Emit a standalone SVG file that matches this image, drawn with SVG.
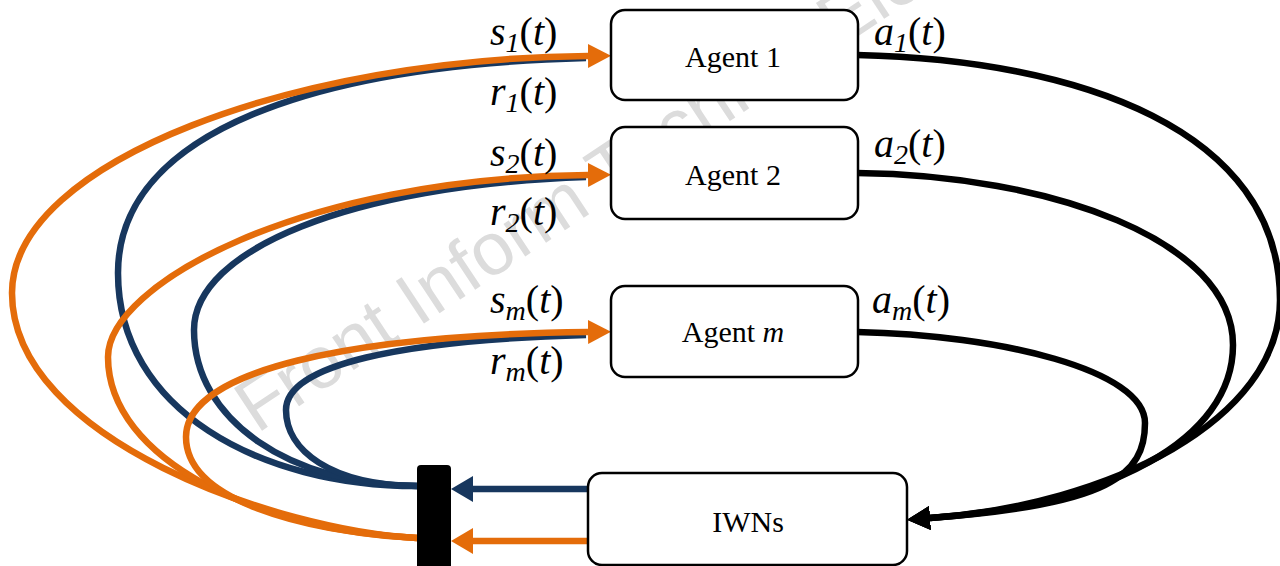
<svg xmlns="http://www.w3.org/2000/svg" width="1280" height="566" viewBox="0 0 1280 566">
<style>
.box{fill:#fff;stroke:#000;stroke-width:2.5}
.lbl{font-family:"Liberation Serif","Times New Roman",serif;font-size:30px;fill:#000}
.math{font-family:"Liberation Serif","Times New Roman",serif;font-size:40px;font-style:italic;fill:#000}
.sub{font-size:28px}
.up{font-style:normal}
.or{fill:none;stroke:#E46C0A;stroke-width:6.5}
.bl{fill:none;stroke:#17375E;stroke-width:6.5}
.bk{fill:none;stroke:#000;stroke-width:6.5}
.wm{font-family:"Liberation Sans",Arial,sans-serif;font-size:74px;fill:#dcdcdc}
</style>
<defs>
<marker id="ao" markerUnits="userSpaceOnUse" viewBox="0 0 23 24" refX="0" refY="12" markerWidth="23" markerHeight="24" orient="auto"><path d="M0,0 L23,12 L0,24 z" fill="#E46C0A"/></marker>
<marker id="ab" markerUnits="userSpaceOnUse" viewBox="0 0 22 26" refX="0" refY="13" markerWidth="22" markerHeight="26" orient="auto"><path d="M0,0 L22,13 L0,26 z" fill="#17375E"/></marker>
<marker id="abo" markerUnits="userSpaceOnUse" viewBox="0 0 22 26" refX="0" refY="13" markerWidth="22" markerHeight="26" orient="auto"><path d="M0,0 L22,13 L0,26 z" fill="#E46C0A"/></marker>
<marker id="ak" markerUnits="userSpaceOnUse" viewBox="0 0 23 24" refX="0" refY="12" markerWidth="23" markerHeight="24" orient="auto"><path d="M0,0 L23,12 L0,24 z" fill="#000"/></marker>
</defs>
<rect width="1280" height="566" fill="#fff"/>
<text class="wm" transform="translate(257,434) rotate(-33.5)">Front Inform Technol Ele</text>

<g id="connectors">
<path class="bl" d="M417,486 C260,486 118,410 118,273 C118,130 320,65 586,58"/>
<path class="bl" d="M417,486 C290,485 194,420 194,330 C194,250 350,185 586,177"/>
<path class="bl" d="M417,486 C330,485 286,450 286,410 C286,365 400,340 586,335"/>
<path class="or" d="M417,538 C280,531 12,440 12,293 C12,160 300,58 588,56" marker-end="url(#ao)"/>
<path class="or" d="M417,538 C260,531 108,460 108,357 C108,285 300,178 588,175" marker-end="url(#ao)"/>
<path class="or" d="M417,538 C300,531 186,500 186,437 C186,370 350,335 588,332" marker-end="url(#ao)"/>
<path class="bl" d="M588,489 L473,489" marker-end="url(#ab)"/>
<path class="or" d="M588,541 L473,541" marker-end="url(#abo)"/>
<path class="bk" d="M857,55 C1080,60 1280,130 1280,300 C1280,420 1110,505 930,518" marker-end="url(#ak)"/>
<path class="bk" d="M857,173 C1050,175 1233,240 1233,345 C1233,440 1110,505 930,518" marker-end="url(#ak)"/>
<path class="bk" d="M857,332 C1000,335 1145,370 1145,423 C1145,475 1110,505 930,518" marker-end="url(#ak)"/>
</g>

<g id="bar"><rect x="417" y="465" width="34" height="110" rx="4" fill="#000"/></g>

<g id="agent1">
<rect class="box" x="611" y="10" width="247" height="90" rx="14"/>
<text class="lbl" x="733" y="67" text-anchor="middle">Agent 1</text>
</g>
<g id="agent2">
<rect class="box" x="611" y="127" width="247" height="92" rx="14"/>
<text class="lbl" x="733" y="185" text-anchor="middle">Agent 2</text>
</g>
<g id="agentm">
<rect class="box" x="611" y="286" width="247" height="91" rx="14"/>
<text class="lbl" x="733" y="342" text-anchor="middle">Agent <tspan font-style="italic">m</tspan></text>
</g>
<g id="iwns">
<rect class="box" x="588" y="473" width="319" height="92" rx="14"/>
<text class="lbl" x="748" y="532" text-anchor="middle">IWNs</text>
</g>

<g id="labels">
<text class="math" x="490" y="45">s<tspan class="sub" dy="7">1</tspan><tspan class="up" dy="-7">(</tspan>t<tspan class="up">)</tspan></text>
<text class="math" x="490" y="105">r<tspan class="sub" dy="7">1</tspan><tspan class="up" dy="-7">(</tspan>t<tspan class="up">)</tspan></text>
<text class="math" x="490" y="166">s<tspan class="sub" dy="7">2</tspan><tspan class="up" dy="-7">(</tspan>t<tspan class="up">)</tspan></text>
<text class="math" x="490" y="225">r<tspan class="sub" dy="7">2</tspan><tspan class="up" dy="-7">(</tspan>t<tspan class="up">)</tspan></text>
<text class="math" x="490" y="313">s<tspan class="sub" dy="7">m</tspan><tspan class="up" dy="-7">(</tspan>t<tspan class="up">)</tspan></text>
<text class="math" x="490" y="374">r<tspan class="sub" dy="7">m</tspan><tspan class="up" dy="-7">(</tspan>t<tspan class="up">)</tspan></text>
<text class="math" x="874" y="45">a<tspan class="sub" dy="7">1</tspan><tspan class="up" dy="-7">(</tspan>t<tspan class="up">)</tspan></text>
<text class="math" x="874" y="157">a<tspan class="sub" dy="7">2</tspan><tspan class="up" dy="-7">(</tspan>t<tspan class="up">)</tspan></text>
<text class="math" x="872" y="313">a<tspan class="sub" dy="7">m</tspan><tspan class="up" dy="-7">(</tspan>t<tspan class="up">)</tspan></text>
</g>
</svg>
